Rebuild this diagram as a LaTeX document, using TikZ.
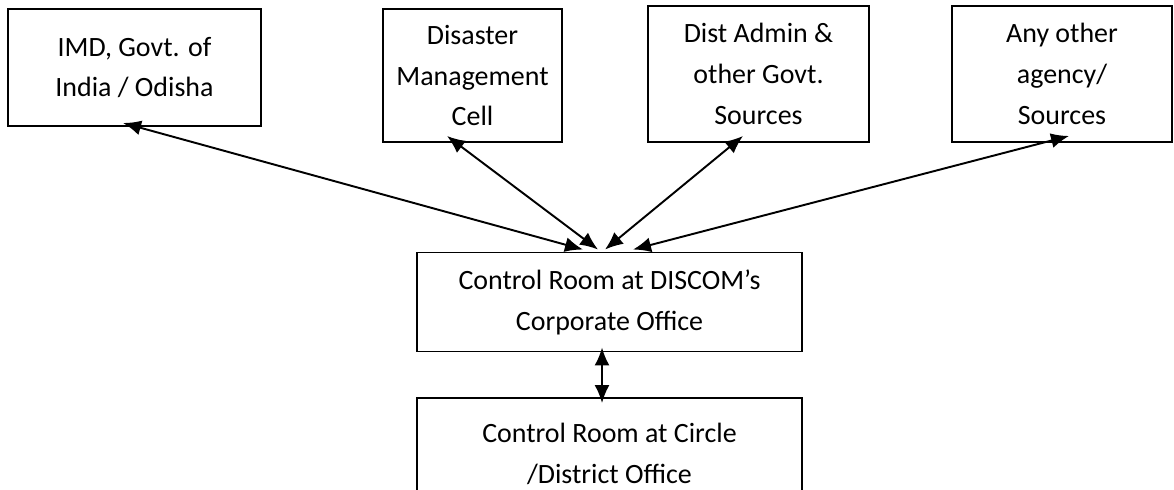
\documentclass[tikz,border=0pt]{standalone}
\usepackage{fontspec}
\setmainfont{Carlito}
\usetikzlibrary{calc}
\usetikzlibrary{positioning}
\usetikzlibrary{arrows.meta}

\begin{document}
\begin{tikzpicture}[
    infobox/.style={draw, line width=1.1pt, align=center, inner sep=0pt,
      font=\fontsize{15.9}{23.3}\selectfont},
    link/.style={{Latex[length=0.36cm,width=0.3cm]}-{Latex[length=0.36cm,width=0.3cm]}, line width=1.1pt}
  ]

  \clip (0,0) rectangle (23.48,-9.78);

  \node [infobox, minimum width=5.06cm, minimum height=2.34cm] (imd) at (2.69,-1.35) {IMD, Govt. of\\India / Odisha};
  \node [infobox, minimum width=3.58cm, minimum height=2.66cm] (dmc) at (9.45,-1.51) {Disaster\\Management\\Cell};
  \node [infobox, minimum width=4.42cm, minimum height=2.72cm] (dist) at (15.17,-1.48) {Dist Admin \&\\other Govt.\\Sources};
  \node [infobox, minimum width=4.40cm, minimum height=2.72cm] (other) at (21.24,-1.48) {Any other\\agency/\\Sources};

  \node [infobox, minimum width=7.70cm, minimum height=1.98cm] (ctrl) at (12.19,-6.04) {Control Room at DISCOM’s\\Corporate Office};
  \node [infobox, minimum width=7.70cm, minimum height=2.24cm] (circle) at (12.19,-9.08) {Control Room at Circle\\/District Office};

  % sources <-> corporate control room
  \draw [link] ([xshift=-0.53cm,yshift=0.04cm]ctrl.north) -- ([xshift=-0.23cm,yshift=0.08cm]imd.south);
  \draw [link] ([xshift=-0.23cm,yshift=0.04cm]ctrl.north) -- ([xshift=-0.51cm,yshift=0.14cm]dmc.south);
  \draw [link] ([xshift=-0.09cm,yshift=0.04cm]ctrl.north) -- ([xshift=-0.31cm,yshift=0.14cm]dist.south);
  \draw [link] ([xshift=0.47cm,yshift=0.04cm]ctrl.north) -- ([xshift=0.14cm,yshift=0.14cm]other.south);

  \draw [link] ([xshift=-0.15cm,yshift=0.1cm]ctrl.south) -- ([xshift=-0.15cm,yshift=-0.12cm]circle.north);

\end{tikzpicture}
\end{document}
